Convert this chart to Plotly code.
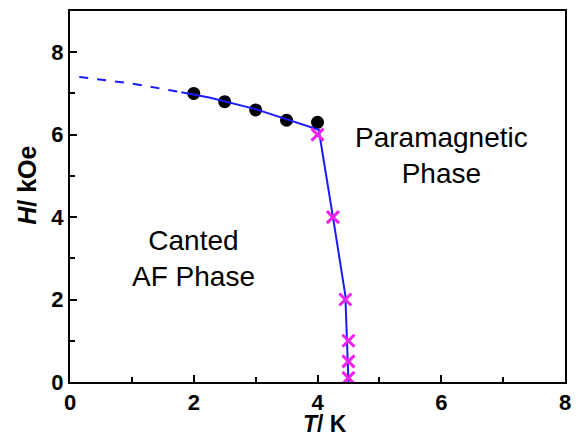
import plotly.graph_objects as go

# data
circle_T = [2.0, 2.5, 3.0, 3.5, 4.0]
circle_H = [7.0, 6.8, 6.6, 6.35, 6.3]
cross_T = [4.0, 4.25, 4.45, 4.5, 4.5, 4.5]
cross_H = [6.0, 4.0, 2.0, 1.0, 0.5, 0.1]
line_T = [1.8, 2.25, 3.0, 3.5, 4.02, 4.25, 4.45, 4.5]
line_H = [7.03, 6.9, 6.62, 6.38, 6.12, 4.0, 2.1, 0.0]
dash_T = [0.15, 1.0, 1.8]
dash_H = [7.4, 7.24, 7.03]
x_title = "<b><i>T</i>/ K</b>"
y_title = "<b><i>H</i>/ kOe</b>"

fig = go.Figure()
fig.add_trace(go.Scatter(x=dash_T, y=dash_H, mode="lines",
                         line=dict(color="#1a1aff", width=2, dash="dash")))
fig.add_trace(go.Scatter(x=circle_T, y=circle_H, mode="markers",
                         marker=dict(symbol="circle", size=13, color="black")))
fig.add_trace(go.Scatter(x=line_T, y=line_H, mode="lines",
                         line=dict(color="#1a1aff", width=2)))
fig.add_trace(go.Scatter(x=cross_T, y=cross_H, mode="markers",
                         marker=dict(symbol="x-thin", size=12, color="#ee22ee",
                                     line=dict(width=3, color="#ee22ee"))))

font_fam = "Liberation Sans, Arial, sans-serif"
fig.add_annotation(x=6.0, y=5.5, text="Paramagnetic<br>Phase", showarrow=False,
                   font=dict(family=font_fam, size=28, color="black"))
fig.add_annotation(x=2.0, y=3.0, text="Canted<br>AF Phase", showarrow=False,
                   font=dict(family=font_fam, size=28, color="black"))
fig.add_annotation(xref="paper", yref="paper", x=0.515, y=-0.112, text=x_title,
                   showarrow=False, xanchor="center", yanchor="middle",
                   font=dict(family=font_fam, size=23, color="black"))
fig.add_annotation(xref="paper", yref="paper", x=-0.086, y=0.53, text=y_title,
                   showarrow=False, xanchor="center", yanchor="middle", textangle=-90,
                   font=dict(family=font_fam, size=25, color="black"))

axis_common = dict(showgrid=False, zeroline=False, showline=True, linecolor="black",
                   linewidth=2, mirror=True, ticks="inside", ticklen=7, tickwidth=2,
                   tickcolor="black",
                   tickfont=dict(family=font_fam, size=22, color="black", weight="bold"))
fig.update_xaxes(range=[0, 8], dtick=2, tick0=0,
                 minor=dict(dtick=1, ticks="inside", ticklen=5, tickwidth=2, tickcolor="black"),
                 **axis_common)
fig.update_yaxes(range=[0, 9], dtick=2, tick0=0,
                 minor=dict(dtick=1, ticks="inside", ticklen=5, tickwidth=2, tickcolor="black"),
                 **axis_common)
fig.update_layout(width=580, height=437, showlegend=False,
                  margin=dict(l=70, r=9, t=10, b=55),
                  plot_bgcolor="white", paper_bgcolor="white")
fig.write_html("out.html")
